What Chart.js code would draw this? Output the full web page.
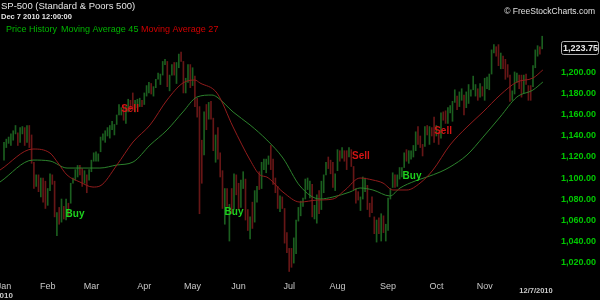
<!DOCTYPE html>
<html>
<head>
<meta charset="utf-8">
<script src="https://cdn.jsdelivr.net/npm/chart.js@4/dist/chart.umd.min.js"></script>
<style>
  html, body { margin: 0; padding: 0; background: #000; }
  canvas { display: block; }
</style>
</head>
<body>
<canvas id="price-chart" width="600" height="300"></canvas>
<script>
// daily bars, Jan 4 2010 .. Dec 7 2010 (one line per month)
const highs = [
  1134,1137,1139,1142,1145,1150,1143,1148,1149,1148,1150,1150,1141,1115,1103,1103,1100,1100,1097,
  1090,1104,1103,1097,1067,1072,1080,1073,1080,1076,1095,1100,1108,1112,1112,1109,1107,1103,1108,
  1117,1124,1125,1123,1139,1142,1145,1148,1150,1154,1151,1160,1170,1167,1169,1168,1175,1174,1181,1174,1175,1176,1174,
  1181,1188,1191,1190,1187,1194,1200,1199,1211,1213,1211,1198,1208,1210,1210,1218,1220,1211,1195,1208,1208,
  1205,1197,1176,1168,1136,1163,1170,1172,1173,1157,1141,1148,1124,1107,1090,1090,1075,1090,1104,1103,
  1095,1098,1106,1099,1070,1063,1077,1088,1092,1106,1115,1118,1118,1121,1131,1118,1100,1092,1083,1082,1071,1048,
  1033,1033,1043,1060,1072,1078,1081,1099,1100,1097,1094,1074,1084,1088,1097,1103,1115,1120,1117,1115,1104,
  1127,1126,1129,1126,1126,1129,1127,1111,1090,1087,1082,1101,1100,1093,1076,1082,1063,1060,1062,1066,1064,1056,
  1081,1090,1105,1103,1103,1110,1110,1124,1127,1126,1126,1131,1144,1149,1140,1132,1149,1150,1149,1148,1158,
  1150,1144,1162,1163,1164,1167,1169,1173,1184,1178,1182,1185,1179,1182,1189,1184,1197,1189,1185,1190,1187,
  1195,1196,1199,1222,1227,1225,1227,1219,1216,1213,1208,1198,1183,1201,1200,1198,1198,1198,1199,1188,1188,
  1207,1222,1226,1225,1235
];
const lows = [
  1117,1129,1133,1131,1136,1142,1131,1134,1142,1131,1134,1129,1114,1090,1092,1087,1082,1077,1071,
  1074,1088,1094,1063,1045,1056,1058,1061,1060,1063,1076,1095,1098,1101,1103,1092,1095,1086,1098,
  1106,1116,1116,1116,1125,1136,1134,1140,1138,1146,1141,1151,1160,1160,1155,1152,1163,1165,1165,1163,1167,1168,1168,
  1170,1178,1181,1180,1178,1186,1194,1189,1198,1208,1187,1183,1198,1198,1190,1205,1211,1181,1181,1191,1186,
  1188,1168,1158,1066,1095,1122,1146,1156,1156,1126,1115,1118,1101,1071,1056,1073,1040,1066,1070,1084,
  1070,1072,1090,1060,1050,1042,1052,1058,1077,1089,1090,1108,1105,1113,1108,1094,1086,1071,1068,1071,1038,1029,
  1011,1015,1019,1028,1059,1064,1073,1080,1089,1081,1063,1061,1057,1066,1070,1086,1103,1109,1104,1091,1088,
  1107,1116,1119,1116,1108,1120,1111,1089,1076,1079,1069,1080,1087,1070,1063,1067,1047,1039,1047,1040,1048,1040,
  1050,1080,1091,1091,1092,1099,1101,1110,1116,1114,1118,1120,1126,1132,1129,1121,1130,1141,1132,1140,1134,
  1140,1132,1138,1155,1152,1152,1162,1154,1172,1165,1168,1174,1160,1167,1171,1178,1184,1178,1174,1177,1178,
  1174,1185,1184,1199,1219,1216,1207,1204,1204,1194,1196,1173,1174,1180,1191,1185,1177,1181,1189,1174,1174,
  1187,1205,1216,1218,1223
];
const closes = [
  1133,1137,1137,1142,1145,1147,1136,1146,1148,1136,1150,1138,1116,1092,1097,1092,1098,1085,1074,
  1089,1103,1097,1063,1066,1057,1071,1068,1078,1076,1095,1100,1107,1109,1108,1095,1105,1103,1104,
  1116,1118,1119,1123,1139,1139,1140,1146,1150,1150,1151,1159,1166,1166,1160,1166,1174,1168,1166,1167,1173,1173,1169,
  1178,1187,1189,1182,1186,1194,1196,1197,1211,1212,1192,1198,1207,1206,1209,1217,1212,1184,1191,1207,1187,
  1202,1174,1166,1128,1111,1160,1156,1172,1157,1136,1137,1121,1115,1072,1088,1074,1074,1068,1103,1089,
  1071,1098,1103,1065,1050,1062,1056,1087,1092,1090,1115,1115,1116,1118,1113,1095,1092,1074,1077,1075,1041,1031,
  1027,1023,1028,1060,1070,1078,1079,1095,1095,1096,1065,1071,1083,1070,1094,1103,1115,1114,1106,1102,1102,
  1126,1120,1127,1126,1122,1128,1121,1089,1084,1079,1079,1093,1094,1076,1072,1067,1052,1055,1047,1065,1049,1049,
  1080,1090,1105,1092,1099,1104,1110,1122,1121,1125,1125,1126,1143,1140,1134,1125,1149,1142,1148,1145,1141,
  1146,1137,1161,1160,1158,1165,1165,1170,1178,1174,1176,1185,1166,1178,1180,1183,1186,1186,1182,1184,1183,
  1184,1194,1198,1221,1226,1223,1213,1219,1214,1199,1198,1178,1179,1197,1200,1198,1181,1198,1189,1188,1181,
  1206,1222,1225,1223,1223.75
];

// moving averages (bar index, price)
const ma27Idx = [-1.74,12.6,20,23.5,27.4,33,38.7,41.7,49.1,56.1,63.5,70.9,77.8,83,85.2,92.6,99.6,107,111.3,114.3,121.3,128.7,136.1,143,148.3,154.8,160.4,164.8,169.1,175.2,180.9,186.5,193.9,201.3,208.3,215.7,223,230,234.3];
const ma27Val = [1107.6,1127.6,1123.8,1114.3,1102.9,1096.2,1091.4,1092.4,1112.4,1134.3,1150.5,1174.3,1190.5,1193.3,1190.5,1180.9,1148.6,1117.1,1102.9,1100.9,1086.6,1077.1,1079,1080,1088.6,1100,1098.1,1095.2,1088.6,1088.6,1095.2,1107.6,1131.4,1148.6,1162.9,1179,1191.4,1195.2,1202.9];
const ma45Idx = [-1.74,12.6,20,27.4,34.3,41.7,49.1,56.1,63.5,70.9,77.8,83.9,90.4,92.6,99.6,107,114.3,121.3,128.7,137.4,143,150.4,154.8,160.4,167.8,172.2,178.7,183.9,189.6,193.9,201.3,208.3,215.7,223,230,234.3];
const ma45Val = [1096.2,1117.1,1116.2,1109.5,1109.5,1109.5,1112.4,1115.2,1131.4,1145.7,1162.9,1177.1,1179,1177.1,1162.9,1150.5,1136.2,1119,1092.4,1080,1081.9,1086.7,1090.5,1088.6,1082.9,1090.5,1097.1,1101,1105.7,1110.5,1121.9,1139,1158.1,1177.1,1183.8,1191.4];

const monthStart = [0, 19, 38, 61, 82, 102, 124, 145, 167, 188, 209];
const monthLabels = ['Jan', 'Feb', 'Mar', 'Apr', 'May', 'Jun', 'Jul', 'Aug', 'Sep', 'Oct', 'Nov'];
const yTicks = [1020, 1040, 1060, 1080, 1100, 1120, 1140, 1160, 1180, 1200];

const signalText = ['Buy', 'Sell', 'Buy', 'Sell', 'Buy', 'Sell'];
const signalIdx = [30.9, 54.8, 100, 155.2, 177.4, 190.9];
const signalPrice = [1065.7, 1165.7, 1067.6, 1121, 1101.9, 1144.8];

const upColor = '#1b5e1f';
const downColor = '#661616';
const barColors = closes.map((c, i) => (i === 0 || c >= closes[i - 1]) ? upColor : downColor);

const fmt = v => v.toLocaleString('en-US', { minimumFractionDigits: 2, maximumFractionDigits: 2 });

const overlay = {
  id: 'overlay',
  afterDraw(chart) {
    const ctx = chart.ctx;
    const xs = chart.scales.x, ys = chart.scales.y;
    ctx.save();
    ctx.textBaseline = 'middle';

    ctx.textAlign = 'left';
    ctx.fillStyle = '#e4e4e4';
    ctx.font = '9.5px "Liberation Sans"';
    ctx.fillText('SP-500 (Standard & Poors 500)', 1, 6.5);
    ctx.font = 'bold 7.5px "Liberation Sans"';
    ctx.fillText('Dec 7 2010 12:00:00', 1, 17);

    ctx.font = '9px "Liberation Sans"';
    ctx.fillStyle = '#00b400';
    ctx.fillText('Price History', 6, 30);
    ctx.fillText('Moving Average 45', 61, 30);
    ctx.fillStyle = '#d20000';
    ctx.fillText('Moving Average 27', 141, 30);

    ctx.textAlign = 'right';
    ctx.fillStyle = '#e0e0e0';
    ctx.font = '8.5px "Liberation Sans"';
    ctx.fillText('\u00A9 FreeStockCharts.com', 595, 12);

    // signals
    ctx.textAlign = 'center';
    ctx.font = 'bold 10px "Liberation Sans"';
    signalText.forEach((t, i) => {
      ctx.fillStyle = t === 'Buy' ? '#1ed21e' : '#d41414';
      ctx.fillText(t, xs.getPixelForValue(signalIdx[i]), ys.getPixelForValue(signalPrice[i]));
    });

    // year and last date under the axis
    ctx.fillStyle = '#c8c8c8';
    ctx.font = 'bold 8px "Liberation Sans"';
    ctx.fillText('2010', xs.getPixelForValue(0), 295.5);
    ctx.font = 'bold 7.5px "Liberation Sans"';
    ctx.fillText('12/7/2010', 536, 291);

    // last price box
    const last = closes[closes.length - 1];
    const py = Math.round(ys.getPixelForValue(last));
    ctx.fillStyle = '#000';
    ctx.strokeStyle = '#b4b4b4';
    ctx.lineWidth = 1;
    ctx.beginPath();
    ctx.roundRect(561.5, py - 6.5, 37, 13, 2);
    ctx.fill();
    ctx.stroke();
    ctx.fillStyle = '#e8e8e8';
    ctx.textAlign = 'left';
    ctx.font = 'bold 9px "Liberation Sans"';
    ctx.fillText(fmt(last), 563, py + 0.5);
    ctx.restore();
  }
};

new Chart(document.getElementById('price-chart'), {
  type: 'bar',
  data: {
    datasets: [
      {
        type: 'line',
        label: 'Moving Average 27',
        data: ma27Idx.map((v, i) => ({ x: v, y: ma27Val[i] })),
        borderColor: '#921c1c',
        borderWidth: 1,
        pointRadius: 0,
        cubicInterpolationMode: 'monotone',
        order: 0
      },
      {
        type: 'line',
        label: 'Moving Average 45',
        data: ma45Idx.map((v, i) => ({ x: v, y: ma45Val[i] })),
        borderColor: '#2c822c',
        borderWidth: 1,
        pointRadius: 0,
        cubicInterpolationMode: 'monotone',
        order: 0
      },
      {
        type: 'bar',
        label: 'Price History',
        data: highs.map((h, i) => ({ x: i, y: [lows[i], h] })),
        backgroundColor: barColors,
        barThickness: 1,
        order: 1
      }
    ]
  },
  options: {
    responsive: false,
    animation: false,
    devicePixelRatio: 1,
    layout: { padding: 0 },
    plugins: { legend: { display: false }, tooltip: { enabled: false } },
    scales: {
      x: {
        type: 'linear',
        min: -1.74,
        max: 237.4,
        offset: false,
        grid: { display: false, drawTicks: false, offset: false },
        border: { display: false },
        afterBuildTicks: s => { s.ticks = monthStart.map(v => ({ value: v })); },
        afterFit: s => { s.height = 22; s.paddingLeft = 0; s.paddingRight = 0; },
        ticks: {
          autoSkip: false,
          maxRotation: 0,
          color: '#c8c8c8',
          padding: 3,
          font: { family: 'Liberation Sans', size: 9 },
          callback: (v, i) => monthLabels[i]
        }
      },
      y: {
        position: 'right',
        min: 1004.8,
        max: 1269.5,
        grid: { display: false, drawTicks: false },
        border: { display: false },
        afterBuildTicks: s => { s.ticks = yTicks.map(v => ({ value: v })); },
        afterFit: s => { s.width = 50; s.paddingTop = 0; s.paddingBottom = 0; },
        ticks: {
          color: '#00c800',
          padding: 11,
          font: { family: 'Liberation Sans', size: 9, weight: 'bold' },
          callback: v => fmt(v)
        }
      }
    }
  },
  plugins: [overlay]
});
</script>
</body>
</html>
